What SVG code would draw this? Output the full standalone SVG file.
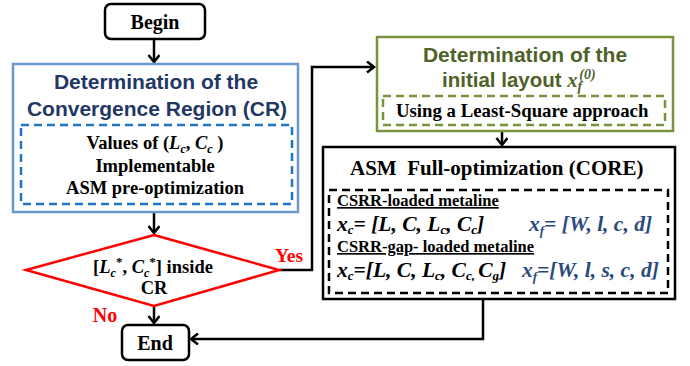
<svg xmlns="http://www.w3.org/2000/svg" width="690" height="366" viewBox="0 0 690 366">
<defs>
<style>
.ser{font-family:"Liberation Serif","Times New Roman",serif;font-weight:bold;}
.san{font-family:"Liberation Sans",Arial,sans-serif;font-weight:bold;}
.it{font-style:italic;}
.conn{fill:none;stroke:#000;stroke-width:2.5;}
</style>
<marker id="ah" markerUnits="userSpaceOnUse" markerWidth="14" markerHeight="14" refX="8" refY="6" orient="auto">
<path d="M1,0.5 L8,6 L1,11.5" fill="none" stroke="#000" stroke-width="2.5"/>
</marker>
</defs>
<rect width="690" height="366" fill="#fff"/>

<g id="connectors">
<line class="conn" x1="154" y1="39" x2="154" y2="62" marker-end="url(#ah)"/>
<line class="conn" x1="154" y1="212" x2="154" y2="233" marker-end="url(#ah)"/>
<line class="conn" x1="154" y1="306" x2="154" y2="323" marker-end="url(#ah)"/>
<polyline class="conn" points="279,270 312,270 312,67 374,67" marker-end="url(#ah)"/>
<line class="conn" x1="502" y1="131" x2="502" y2="145" marker-end="url(#ah)"/>
<polyline class="conn" points="483,299 483,339 191,339" marker-end="url(#ah)"/>
</g>

<g id="begin">
<rect x="105" y="4" width="100" height="35" rx="6" fill="#fff" stroke="#000" stroke-width="2.5"/>
<text class="ser" x="155" y="29" font-size="20" text-anchor="middle">Begin</text>
</g>

<g id="cr">
<rect x="13" y="64" width="285" height="148" fill="#fff" stroke="#6a97cc" stroke-width="2.5"/>
<text class="san" x="156" y="89" font-size="21" fill="#1f3864" text-anchor="middle">Determination of the</text>
<text class="san" x="157" y="116" font-size="21" fill="#1f3864" text-anchor="middle">Convergence Region (CR)</text>
<rect x="21" y="125" width="271" height="79" fill="none" stroke="#1f74c4" stroke-width="2.5" stroke-dasharray="8,5"/>
<text class="ser" x="155" y="149" font-size="18.5" text-anchor="middle">Values of (<tspan class="it">L</tspan><tspan class="it" font-size="12" dy="4">c</tspan><tspan dy="-4">, </tspan><tspan class="it">C</tspan><tspan class="it" font-size="12" dy="4">c</tspan><tspan dy="-4"> )</tspan></text>
<text class="ser" x="155" y="172" font-size="18.5" text-anchor="middle">Implementable</text>
<text class="ser" x="155" y="194" font-size="18.5" text-anchor="middle">ASM pre-optimization</text>
</g>

<g id="decision">
<polygon points="154,235 279,270 154,306 26,270" fill="#fff" stroke="#ff0000" stroke-width="2.5"/>
<text class="ser" x="153" y="273" font-size="18.5" text-anchor="middle">[<tspan class="it">L</tspan><tspan class="it" font-size="12" dy="4">c</tspan><tspan font-size="13" dy="-11">*</tspan><tspan dy="7">, </tspan><tspan class="it">C</tspan><tspan class="it" font-size="12" dy="4">c</tspan><tspan font-size="13" dy="-11">*</tspan><tspan dy="7">] inside</tspan></text>
<text class="ser" x="154" y="294" font-size="18.5" text-anchor="middle">CR</text>
<text class="ser" x="289" y="262" font-size="19.5" fill="#ff0000" text-anchor="middle">Yes</text>
<text class="ser" x="105" y="322" font-size="20" fill="#ff0000" text-anchor="middle">No</text>
</g>

<g id="end">
<rect x="122" y="325" width="67" height="35" rx="6" fill="#fff" stroke="#000" stroke-width="2.5"/>
<text class="ser" x="155" y="350" font-size="20" text-anchor="middle">End</text>
</g>

<g id="layout">
<rect x="377" y="37" width="296" height="94" fill="#fff" stroke="#77933c" stroke-width="2.5"/>
<text class="san" x="525" y="62" font-size="21" fill="#4f6228" text-anchor="middle">Determination of the</text>
<text class="san" x="442" y="87" font-size="20.5" fill="#4f6228">initial layout <tspan class="ser it">x</tspan><tspan class="ser it" font-size="14" dy="4">f</tspan><tspan class="ser it" font-size="14" dx="-3" dy="-12">(0)</tspan></text>
<rect x="383" y="96" width="282" height="29" fill="none" stroke="#77933c" stroke-width="2.5" stroke-dasharray="8,5"/>
<text class="ser" x="396" y="117" font-size="18.8">Using a Least-Square approach</text>
</g>

<g id="core">
<rect x="323" y="147" width="352" height="152" fill="#fff" stroke="#000" stroke-width="2.5"/>
<text class="ser" x="350" y="175" font-size="21" xml:space="preserve">ASM  Full-optimization (CORE)</text>
<rect x="329" y="190" width="339" height="103" fill="none" stroke="#000" stroke-width="2.5" stroke-dasharray="8,5"/>
<text class="ser" x="337" y="206" font-size="16.5" text-decoration="underline">CSRR-loaded metaline</text>
<text class="ser it" x="337" y="231" font-size="21.5">x<tspan font-size="13" dy="3">c</tspan><tspan dy="-3">= [L, C, L</tspan><tspan font-size="13" dy="3">c</tspan><tspan dy="-3">, C</tspan><tspan font-size="13" dy="3">c</tspan><tspan dy="-3">]</tspan></text>
<text class="ser it" x="529" y="231" font-size="21.5" fill="#2a4a7c">x<tspan font-size="13" dy="4">f</tspan><tspan dy="-4">= [W, l, c, d]</tspan></text>
<text class="ser" x="337" y="252" font-size="16.5" text-decoration="underline">CSRR-gap- loaded metaline</text>
<text class="ser it" x="337" y="277" font-size="21.5">x<tspan font-size="13" dy="3">c</tspan><tspan dy="-3">=[L, C, L</tspan><tspan font-size="13" dy="3">c</tspan><tspan dy="-3">, C</tspan><tspan font-size="13" dy="3">c, </tspan><tspan dy="-3">C</tspan><tspan font-size="13" dy="3">g</tspan><tspan dy="-3">]</tspan></text>
<text class="ser it" x="522" y="277" font-size="21.5" fill="#2a4a7c">x<tspan font-size="13" dy="4">f</tspan><tspan dy="-4">=[W, l, s, c, d]</tspan></text>
</g>
</svg>
